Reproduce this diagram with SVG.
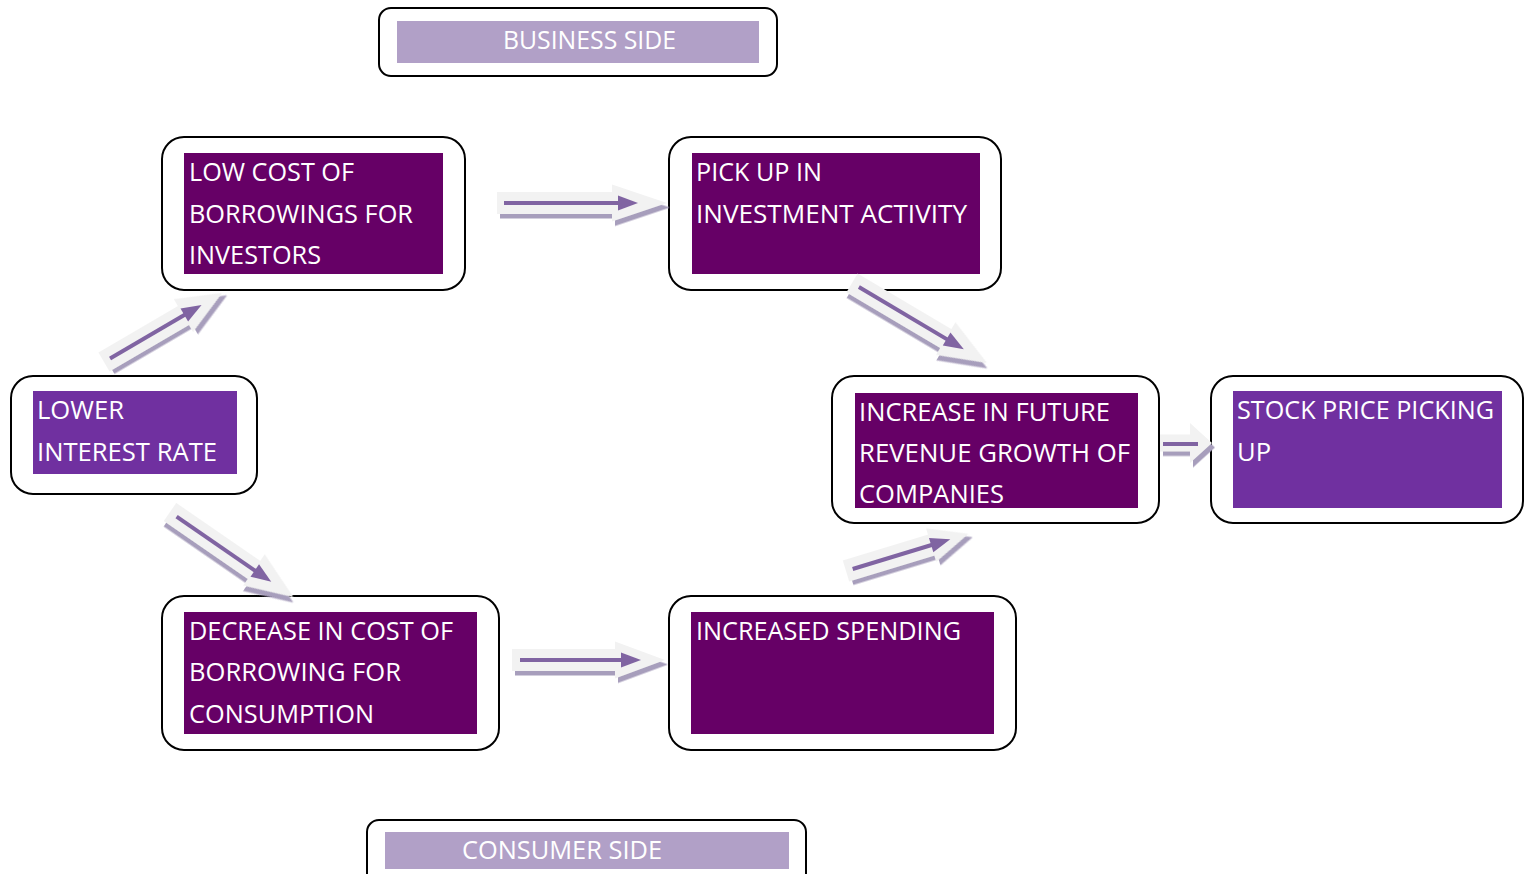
<svg xmlns="http://www.w3.org/2000/svg" width="1531" height="874" viewBox="0 0 1531 874">
  <style>
    .frame { fill: #ffffff; stroke: #000000; stroke-width: 2; }
    .dark { fill: #660066; }
    .violet { fill: #7030a0; }
    .lilac { fill: #b1a0c7; }
    .label { font-family: "Open Sans", "Noto Sans", "Liberation Sans", sans-serif; font-size: 25px; fill: #ffffff; }
    .block { fill: #f2f2f2; filter: url(#drop); }
    .stem { stroke: #8064a2; stroke-width: 4; fill: none; }
    .tip { fill: #8064a2; }
  </style>
  <defs>
    <filter id="drop" x="-20%" y="-40%" width="140%" height="180%">
      <feDropShadow dx="3" dy="4.5" stdDeviation="0.7" flood-color="#a79ebc" flood-opacity="1"/>
    </filter>
  </defs>

  <!-- nodes -->
  <g id="business-side">
    <rect class="frame" x="379" y="8" width="398" height="68" rx="12"/>
    <rect class="lilac" x="397" y="21" width="362" height="42"/>
    <text class="label" x="503" y="49" textLength="173" lengthAdjust="spacingAndGlyphs">BUSINESS SIDE</text>
  </g>

  <g id="low-cost-investors">
    <rect class="frame" x="162" y="137" width="303" height="153" rx="22"/>
    <rect class="dark" x="184" y="153" width="259" height="121"/>
    <text class="label" x="189" y="181" textLength="165" lengthAdjust="spacingAndGlyphs">LOW COST OF</text>
    <text class="label" x="189" y="223" textLength="224" lengthAdjust="spacingAndGlyphs">BORROWINGS FOR</text>
    <text class="label" x="189" y="264" textLength="132" lengthAdjust="spacingAndGlyphs">INVESTORS</text>
  </g>

  <g id="investment-activity">
    <rect class="frame" x="669" y="137" width="332" height="153" rx="22"/>
    <rect class="dark" x="692" y="153" width="288" height="121"/>
    <text class="label" x="696" y="181" textLength="126" lengthAdjust="spacingAndGlyphs">PICK UP IN</text>
    <text class="label" x="696" y="223" textLength="271" lengthAdjust="spacingAndGlyphs">INVESTMENT ACTIVITY</text>
  </g>

  <g id="lower-interest-rate">
    <rect class="frame" x="11" y="376" width="246" height="118" rx="22"/>
    <rect class="violet" x="33" y="391" width="204" height="83"/>
    <text class="label" x="37" y="419" textLength="87" lengthAdjust="spacingAndGlyphs">LOWER</text>
    <text class="label" x="37" y="461" textLength="180" lengthAdjust="spacingAndGlyphs">INTEREST RATE</text>
  </g>

  <g id="revenue-growth">
    <rect class="frame" x="832" y="376" width="327" height="147" rx="22"/>
    <rect class="dark" x="855" y="393" width="283" height="115"/>
    <text class="label" x="859" y="421" textLength="251" lengthAdjust="spacingAndGlyphs">INCREASE IN FUTURE</text>
    <text class="label" x="859" y="462" textLength="271" lengthAdjust="spacingAndGlyphs">REVENUE GROWTH OF</text>
    <text class="label" x="859" y="503" textLength="145" lengthAdjust="spacingAndGlyphs">COMPANIES</text>
  </g>

  <g id="stock-price">
    <rect class="frame" x="1211" y="376" width="312" height="147" rx="22"/>
    <rect class="violet" x="1233" y="391" width="269" height="117"/>
    <text class="label" x="1237" y="419" textLength="257" lengthAdjust="spacingAndGlyphs">STOCK PRICE PICKING</text>
    <text class="label" x="1237" y="461" textLength="34" lengthAdjust="spacingAndGlyphs">UP</text>
  </g>

  <g id="consumption-cost">
    <rect class="frame" x="162" y="596" width="337" height="154" rx="22"/>
    <rect class="dark" x="184" y="612" width="293" height="122"/>
    <text class="label" x="189" y="640" textLength="264" lengthAdjust="spacingAndGlyphs">DECREASE IN COST OF</text>
    <text class="label" x="189" y="681" textLength="212" lengthAdjust="spacingAndGlyphs">BORROWING FOR</text>
    <text class="label" x="189" y="723" textLength="185" lengthAdjust="spacingAndGlyphs">CONSUMPTION</text>
  </g>

  <g id="increased-spending">
    <rect class="frame" x="669" y="596" width="347" height="154" rx="22"/>
    <rect class="dark" x="691" y="612" width="303" height="122"/>
    <text class="label" x="696" y="640" textLength="265" lengthAdjust="spacingAndGlyphs">INCREASED SPENDING</text>
  </g>

  <g id="consumer-side">
    <rect class="frame" x="367" y="820" width="439" height="70" rx="12"/>
    <rect class="lilac" x="385" y="832" width="404" height="37"/>
    <text class="label" x="462" y="859" textLength="200" lengthAdjust="spacingAndGlyphs">CONSUMER SIDE</text>
  </g>

  <!-- connectors: block arrow with a thin arrow drawn along its axis -->
  <g id="connectors">
    <!-- low cost -> investment activity -->
    <g transform="translate(497,203)">
      <path class="block" d="M0,-11 H115 V-18.5 L170,0 L115,18.5 V11 H0 Z"/>
      <line class="stem" x1="7" y1="0" x2="124" y2="0"/>
      <polygon class="tip" points="121,-7.5 141,0 121,7.5"/>
    </g>
    <!-- consumption cost -> increased spending -->
    <g transform="translate(512,660)">
      <path class="block" d="M0,-11 H103 V-18.5 L153,0 L103,18.5 V11 H0 Z"/>
      <line class="stem" x1="8" y1="0" x2="112" y2="0"/>
      <polygon class="tip" points="109,-7.5 129,0 109,7.5"/>
    </g>
    <!-- lower interest rate -> low cost -->
    <g transform="translate(104,362) rotate(-30.3)">
      <path class="block" d="M0,-11 H92 V-19 L137,0 L92,19 V11 H0 Z"/>
      <line class="stem" x1="7" y1="0" x2="96" y2="0"/>
      <polygon class="tip" points="93,-7.5 113,0 93,7.5"/>
    </g>
    <!-- investment activity -> revenue growth -->
    <g transform="translate(852,283) rotate(30.65)">
      <path class="block" d="M0,-11 H109 V-19 L157,0 L109,19 V11 H0 Z"/>
      <line class="stem" x1="8" y1="0" x2="113" y2="0"/>
      <polygon class="tip" points="110,-7.5 130,0 110,7.5"/>
    </g>
    <!-- lower interest rate -> consumption cost -->
    <g transform="translate(170,512) rotate(34.6)">
      <path class="block" d="M0,-11 H102 V-19 L150,0 L102,19 V11 H0 Z"/>
      <line class="stem" x1="8" y1="0" x2="106" y2="0"/>
      <polygon class="tip" points="103,-7.5 123,0 103,7.5"/>
    </g>
    <!-- increased spending -> revenue growth -->
    <g transform="translate(846,571) rotate(-16.9)">
      <path class="block" d="M0,-11 H89 V-17.5 L128,0 L89,17.5 V11 H0 Z"/>
      <line class="stem" x1="7" y1="0" x2="92" y2="0"/>
      <polygon class="tip" points="89,-7.5 109,0 89,7.5"/>
    </g>
    <!-- revenue growth -> stock price -->
    <g transform="translate(1160,443)">
      <path class="block" d="M0,-8.5 H30 V-20 L52,0 L30,20 V8.5 H0 Z"/>
      <line class="stem" x1="3" y1="1" x2="38" y2="1" stroke-width="5"/>
    </g>
  </g>
</svg>
